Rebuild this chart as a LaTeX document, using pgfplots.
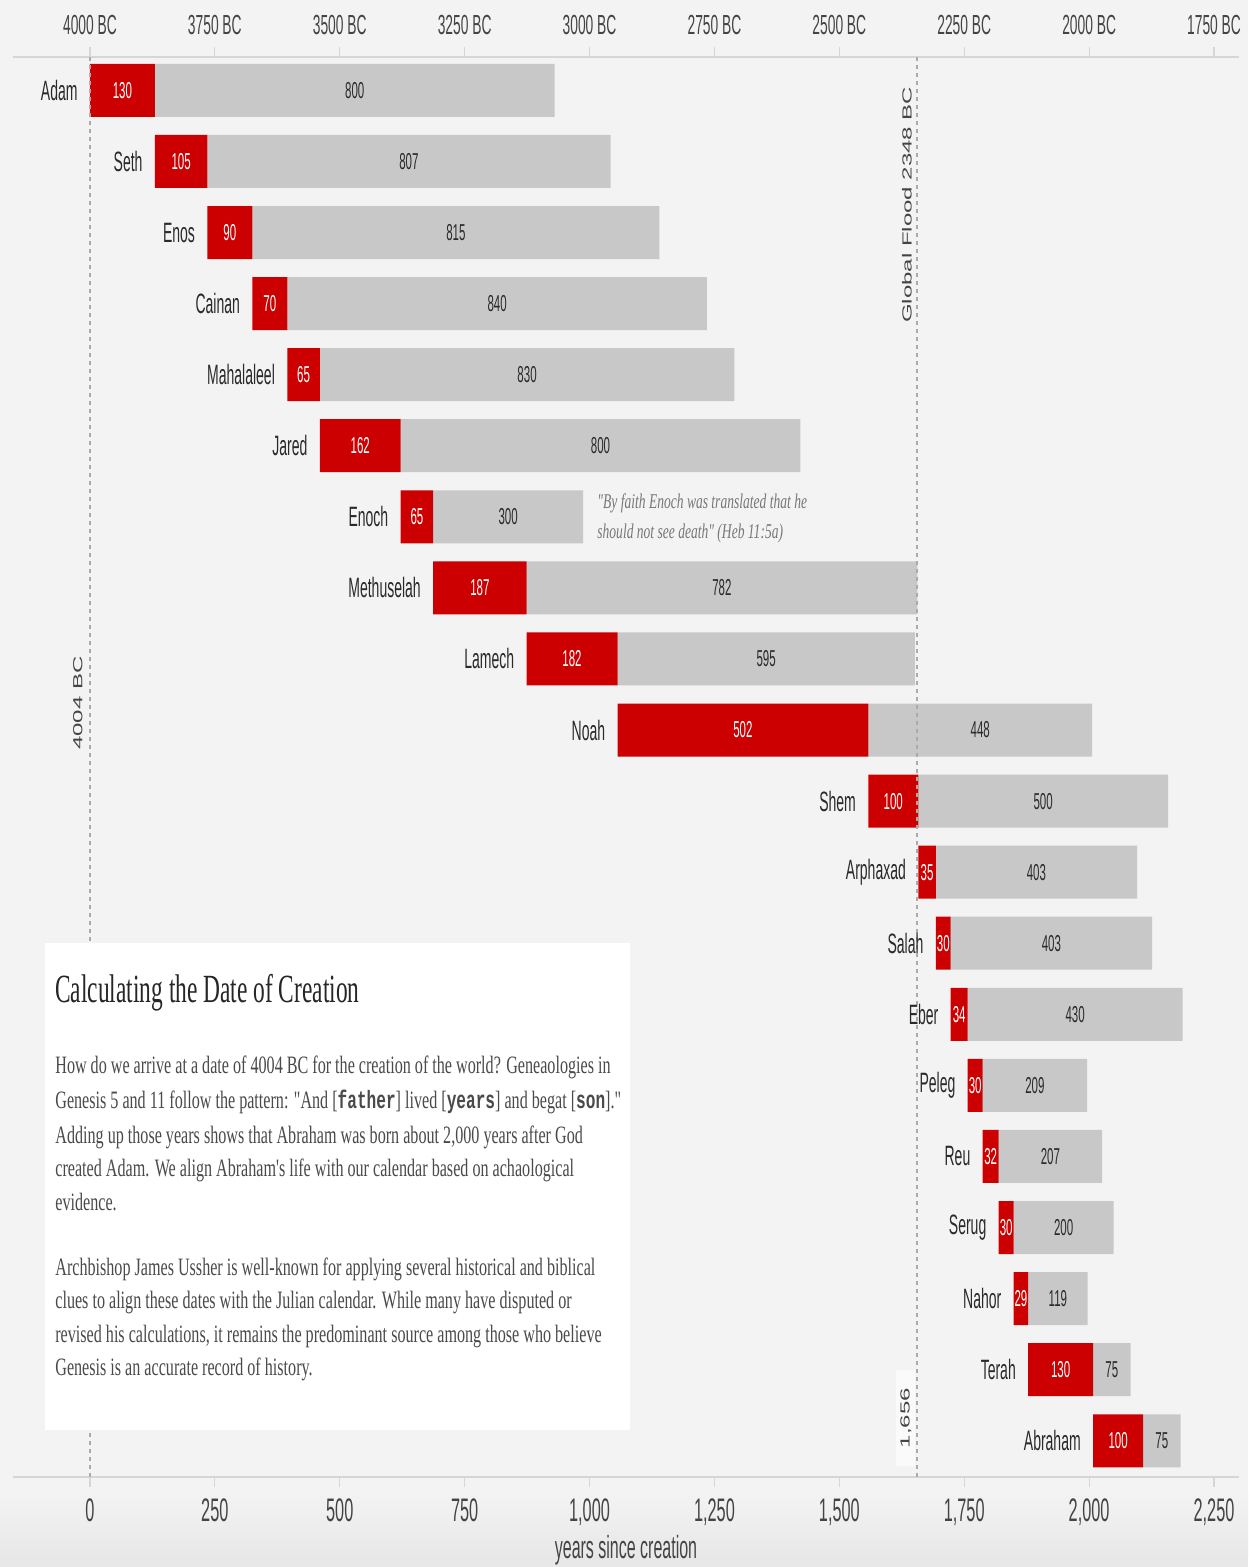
\documentclass[border=0pt]{standalone}
\usepackage{pgfplots}
\pgfplotsset{compat=1.18}
\usepackage{pgfplotstable}
\usepackage{fontspec}
\setmainfont{Liberation Sans}
\newfontfamily\narrow{Liberation Sans}[FakeStretch=0.5]
\newfontfamily\bodyserif{Liberation Serif}[FakeStretch=0.645]
\newfontfamily\titleserif{Liberation Serif}[FakeStretch=0.585]
\newfontfamily\bodymono{Liberation Mono}[FakeStretch=0.645]
\newfontfamily\plainsans{Liberation Sans}

\definecolor{bg}{HTML}{F3F3F3}
\definecolor{barred}{HTML}{CC0000}
\definecolor{bargray}{HTML}{C8C8C8}
\definecolor{axisgray}{HTML}{D6D6D6}
\definecolor{refgray}{HTML}{ABABAB}
\definecolor{txt}{HTML}{2A2A2A}
\definecolor{ticktxt}{HTML}{444444}
\definecolor{bodytxt}{HTML}{4A4A4A}
\definecolor{quotetxt}{HTML}{777777}

\pgfplotstableread[col sep=comma]{
row,name,start,red,gray
0,Adam,0,130,800
1,Seth,130,105,807
2,Enos,235,90,815
3,Cainan,325,70,840
4,Mahalaleel,395,65,830
5,Jared,460,162,800
6,Enoch,622,65,300
7,Methuselah,687,187,782
8,Lamech,874,182,595
9,Noah,1056,502,448
10,Shem,1558,100,500
11,Arphaxad,1658,35,403
12,Salah,1693,30,403
13,Eber,1723,34,430
14,Peleg,1757,30,209
15,Reu,1787,32,207
16,Serug,1819,30,200
17,Nahor,1849,29,119
18,Terah,1878,130,75
19,Abraham,2008,100,75
}\data

\pgfplotsset{base/.style={width=613pt,height=710pt,scale only axis,
  xmin=-154,xmax=2300,ymin=-19.51,ymax=0.47,clip=false}}

\begin{document}
\begin{tikzpicture}
\fill[bg] (-6.5pt,-45pt) rectangle (617.5pt,738.5pt);
\shade[top color=bg,bottom color=black!9] (-6.5pt,-8pt) rectangle (617.5pt,-40pt);
\fill[black!9] (-6.5pt,-40pt) rectangle (617.5pt,-45pt);

% top axis (BC)
\begin{axis}[base,
  axis x line*=top, axis y line=none,
  axis line style={-,draw=axisgray,line width=0.8pt},
  xtick={0,250,...,2250},
  xticklabels={4000 BC,3750 BC,3500 BC,3250 BC,3000 BC,2750 BC,2500 BC,2250 BC,2000 BC,1750 BC},
  xtick align=outside, major tick length=5pt,
  tick style={draw=axisgray,line width=0.6pt},
  xticklabel style={font=\narrow\fontsize{13.8}{15}\selectfont,text=ticktxt,yshift=2.5pt},
  ytick=\empty]
\addplot[draw=none] coordinates {(0,0)};
\end{axis}

% bars + bottom axis
\begin{axis}[base, xbar stacked, bar width=26.5pt,
  axis x line*=bottom, axis y line=none,
  axis line style={-,draw=axisgray,line width=0.8pt},
  xtick={0,250,...,2250},
  xtick align=outside, major tick length=5pt,
  tick style={draw=axisgray,line width=0.6pt},
  xticklabel style={font=\narrow\fontsize{16.3}{18}\selectfont,text=ticktxt,yshift=-2.5pt},
  /pgf/number format/1000 sep={,},
  /pgf/number format/assume math mode=true,
  ytick=\empty]
\addplot[draw=none,fill=none] table[x=start,y expr=-\thisrow{row}]{\data};
\addplot[draw=none,fill=barred] table[x=red,y expr=-\thisrow{row}]{\data};
\addplot[draw=none,fill=bargray] table[x=gray,y expr=-\thisrow{row}]{\data};
\end{axis}

% overlays
\begin{axis}[base, hide axis]
\addplot[refgray,dash pattern=on 2pt off 2pt,line width=0.8pt] coordinates {(0,0.47) (0,-19.51)};
\addplot[refgray,dash pattern=on 2pt off 2pt,line width=0.8pt] coordinates {(1656,0.47) (1656,-19.51)};

% names
\addplot[draw=none,mark=none,nodes near coords,point meta=explicit symbolic,
  every node near coord/.style={anchor=east,xshift=-6pt,inner sep=0pt,
  font=\narrow\fontsize{14}{16}\selectfont,text=txt}]
  table[x=start,y expr=-\thisrow{row},meta=name]{\data};
% red values
\addplot[draw=none,mark=none,nodes near coords,point meta=explicit symbolic,
  every node near coord/.style={anchor=center,inner sep=0pt,
  font=\narrow\fontsize{11.5}{13}\selectfont,text=white}]
  table[x expr=\thisrow{start}+\thisrow{red}/2,y expr=-\thisrow{row},meta=red]{\data};
% gray values
\addplot[draw=none,mark=none,nodes near coords,point meta=explicit symbolic,
  every node near coord/.style={anchor=center,inner sep=0pt,
  font=\narrow\fontsize{11.5}{13}\selectfont,text=txt}]
  table[x expr=\thisrow{start}+\thisrow{red}+\thisrow{gray}/2,y expr=-\thisrow{row},meta=gray]{\data};

% reference labels
\node[rotate=90,text=ticktxt,inner sep=0pt] at (axis cs:-24,-8.62)
  {\scalebox{1}[0.55]{\plainsans\fontsize{12}{14}\selectfont 4004 BC}};
\node[rotate=90,text=ticktxt,inner sep=0pt] at (axis cs:1635,-1.61)
  {\scalebox{1}[0.55]{\plainsans\fontsize{12}{14}\selectfont Global Flood 2348 BC}};
\node[rotate=90,text=ticktxt,fill=white!55!bg,inner xsep=9pt,inner ysep=2pt] at (axis cs:1633,-18.68)
  {\scalebox{1}[0.55]{\plainsans\fontsize{12}{14}\selectfont 1,656}};

% Enoch quote
\node[anchor=base west,inner sep=0pt,text=quotetxt,font=\bodyserif\itshape\fontsize{10.5}{13}\selectfont]
  at (axis cs:1015,-5.889) {"By faith Enoch was translated that he};
\node[anchor=base west,inner sep=0pt,text=quotetxt,font=\bodyserif\itshape\fontsize{10.5}{13}\selectfont]
  at (axis cs:1015,-6.311) {should not see death" (Heb 11:5a)};

% text box
\fill[white] (axis cs:-90,-12.0) rectangle (axis cs:1081,-18.85);
\node[anchor=base west,inner sep=0pt,text=black!85,font=\titleserif\fontsize{20}{24}\selectfont]
  at (axis cs:-70,-12.84) {Calculating the Date of Creation};
\begin{scope}[every node/.style={anchor=base west,inner sep=0pt,text=bodytxt,font=\bodyserif\fontsize{12.5}{14}\selectfont}]
\node at (axis cs:-70,-13.826) {How do we arrive at a date of 4004 BC for the creation of the world? Geneaologies in};
\node at (axis cs:-70,-14.319) {Genesis 5 and 11 follow the pattern: "And [{\bodymono\bfseries father}] lived [{\bodymono\bfseries years}] and begat [{\bodymono\bfseries son}]."};
\node at (axis cs:-70,-14.811) {Adding up those years shows that Abraham was born about 2,000 years after God};
\node at (axis cs:-70,-15.276) {created Adam. We align Abraham's life with our calendar based on achaological};
\node at (axis cs:-70,-15.754) {evidence.};
\node at (axis cs:-70,-16.669) {Archbishop James Ussher is well-known for applying several historical and biblical};
\node at (axis cs:-70,-17.133) {clues to align these dates with the Julian calendar. While many have disputed or};
\node at (axis cs:-70,-17.612) {revised his calculations, it remains the predominant source among those who believe};
\node at (axis cs:-70,-18.076) {Genesis is an accurate record of history.};
\end{scope}

\node[anchor=base,inner sep=0pt,font=\narrow\fontsize{16}{18}\selectfont,text=ticktxt] at (axis description cs:0.5,0) [yshift=-40.5pt] {years since creation};
\end{axis}
\pgfresetboundingbox
\path[use as bounding box] (-6.5pt,-45pt) rectangle (617.5pt,738.5pt);
\end{tikzpicture}
\end{document}
